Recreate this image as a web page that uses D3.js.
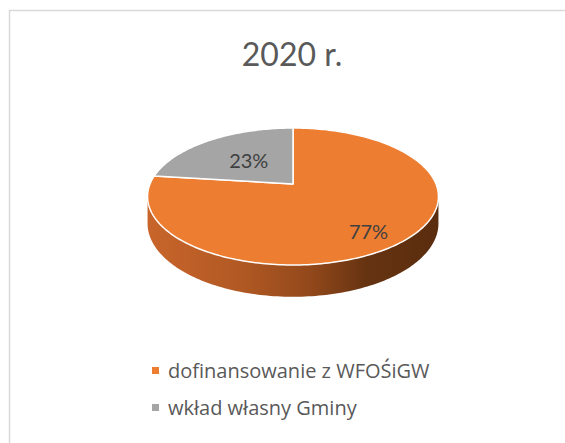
<!doctype html>
<html>
<head>
<meta charset="utf-8">
<title>2020 r.</title>
<script src="https://d3js.org/d3.v7.min.js"></script>
<style>
  html, body { margin: 0; padding: 0; background: #fff; }
  svg { display: block; font-family: Lato, "Open Sans", sans-serif; font-variant-ligatures: none; }
</style>
</head>
<body>
<svg width="565" height="443"></svg>
<script>
// data
var title = "2020 r.";
var categories = ["dofinansowanie z WFOŚiGW", "wkład własny Gminy"];
var values = [77, 23];
var labels = ["77%", "23%"];
var colors = ["#ed7d31", "#a5a5a5"];

var svg = d3.select("svg");

// chart frame (runs off the right/bottom edge like the screenshot)
svg.append("rect")
    .attr("x", 9.5).attr("y", 10.5)
    .attr("width", 600).attr("height", 500)
    .attr("fill", "#fff")
    .attr("stroke", "#d9d9d9")
    .attr("stroke-width", 1.5);

svg.append("text")
    .attr("x", 292).attr("y", 66)
    .attr("text-anchor", "middle")
    .attr("font-size", 32)
    .attr("fill", "#595959")
    .text(title);

// 3d pie: circle in a tilted plane, seen with a little perspective
var cx = 293, cy = 184, A = 143, B = 66.2, k = 0.1825, depth = 26;

function project(theta, r, drop) {
    var u = Math.sin(theta) * r, v = -Math.cos(theta) * r;
    var f = 1 / (1 - k * v);
    return [cx + A * u * f, cy + B * v * f + (drop || 0) * f];
}

var pie = d3.pie().sort(null).value(function (d) { return d; });
var arcs = pie(values);
var line = d3.line();

function sample(a0, a1, r, drop) {
    var n = Math.max(2, Math.ceil(Math.abs(a1 - a0) / 0.02));
    return d3.range(n + 1).map(function (i) {
        return project(a0 + (a1 - a0) * i / n, r, drop);
    });
}

var defs = svg.append("defs");
var grad = defs.append("linearGradient")
    .attr("id", "side")
    .attr("gradientUnits", "userSpaceOnUse")
    .attr("x1", 147).attr("y1", 0).attr("x2", 439).attr("y2", 0);
[[0, "#c8652b"], [0.3, "#b35a24"], [0.55, "#94491b"], [0.75, "#663311"], [1, "#5a2d0e"]]
    .forEach(function (s) {
        grad.append("stop").attr("offset", s[0]).attr("stop-color", s[1]);
    });

// visible outer wall (front half, between silhouette points)
var vis0 = Math.PI / 2 + Math.asin(k), vis1 = 3 * Math.PI / 2 - Math.asin(k);
var g = svg.append("g");

arcs.forEach(function (a, i) {
    var s = Math.max(a.startAngle, vis0), e = Math.min(a.endAngle, vis1);
    if (e <= s) return;
    var top = sample(s, e, 1, 0);
    var bot = sample(e, s, 1, depth);
    g.append("path")
        .attr("d", line(top.concat(bot)) + "Z")
        .attr("fill", i === 0 ? "url(#side)" : "#6e6e6e");
});

// top faces
g.selectAll(".top")
    .data(arcs)
    .enter()
    .append("path")
    .attr("class", "top")
    .attr("d", function (a) {
        return line([project(0, 0)].concat(sample(a.startAngle, a.endAngle, 1, 0))) + "Z";
    })
    .attr("fill", function (d, i) { return colors[i]; })
    .attr("stroke", "#fff")
    .attr("stroke-width", 1.5)
    .attr("stroke-linejoin", "round");

// percent labels
var labelR = [0.72, 0.5];
g.selectAll(".lbl")
    .data(arcs)
    .enter()
    .append("text")
    .attr("class", "lbl")
    .attr("x", function (a, i) { return project((a.startAngle + a.endAngle) / 2, labelR[i])[0]; })
    .attr("y", function (a, i) { return project((a.startAngle + a.endAngle) / 2, labelR[i])[1]; })
    .attr("dy", function (d, i) { return i === 0 ? "0.78em" : "0.36em"; })
    .attr("text-anchor", "middle")
    .attr("font-size", 20)
    .attr("fill", "#404040")
    .text(function (d, i) { return labels[i]; });

// legend
var legend = svg.selectAll(".leg")
    .data(categories)
    .enter()
    .append("g")
    .attr("class", "leg")
    .attr("transform", function (d, i) { return "translate(152," + (378 + i * 37) + ")"; });

legend.append("rect")
    .attr("x", 0).attr("y", -11)
    .attr("width", 7).attr("height", 7)
    .attr("fill", function (d, i) { return colors[i]; });

var legText = legend.append("text")
    .attr("x", 16).attr("y", 0)
    .attr("font-size", 20)
    .attr("font-family", "'Open Sans', sans-serif")
    .attr("fill", "#595959")
    .text(function (d) { return d; });

// fit the longest entry to the width seen in the reference
var w0 = legText.node().getComputedTextLength();
if (w0 > 0) legText.attr("font-size", Math.min(20, 20 * 275 / w0));
</script>
</body>
</html>
